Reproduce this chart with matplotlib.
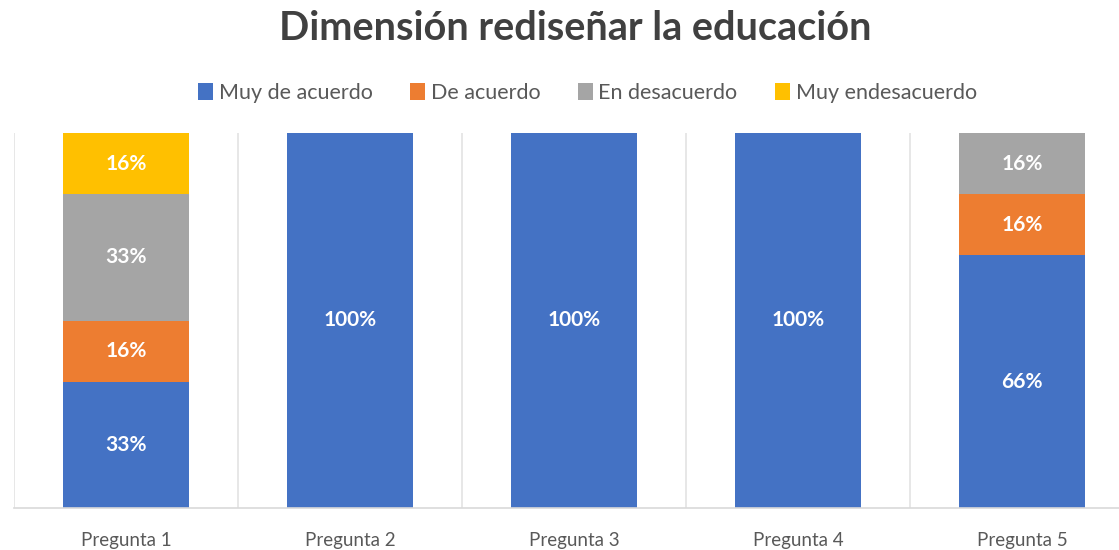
import matplotlib.pyplot as plt
import numpy as np

preguntas = ["Pregunta 1", "Pregunta 2", "Pregunta 3", "Pregunta 4", "Pregunta 5"]
series = ["Muy de acuerdo", "De acuerdo", "En desacuerdo", "Muy endesacuerdo"]
muy_de_acuerdo = [33, 100, 100, 100, 66]
de_acuerdo = [16, 0, 0, 0, 16]
en_desacuerdo = [33, 0, 0, 0, 16]
muy_endesacuerdo = [16, 0, 0, 0, 0]
colores = ["#4472C4", "#ED7D31", "#A5A5A5", "#FFC000"]

plt.rcParams['font.family'] = ['Lato', 'DejaVu Sans']

valores = np.array([muy_de_acuerdo, de_acuerdo, en_desacuerdo, muy_endesacuerdo], dtype=float)
totales = valores.sum(axis=0)
fracciones = valores / totales

fig = plt.figure(figsize=(11.19, 5.5), dpi=100)
ax = fig.add_axes([14 / 1119, 42 / 550, 1120 / 1119, 375 / 550])

x = np.arange(len(preguntas))
base = np.zeros(len(preguntas))
for i, nombre in enumerate(series):
    ax.bar(x, fracciones[i], 0.56, bottom=base, color=colores[i], label=nombre, zorder=2)
    for j in range(len(preguntas)):
        if valores[i, j] > 0:
            ax.text(x[j], base[j] + fracciones[i, j] / 2, f"{int(valores[i, j])}%",
                    ha="center", va="center", color="white", fontsize=15, fontweight="bold")
    base += fracciones[i]

ax.set_xlim(-0.5, len(preguntas) - 0.5)
ax.set_ylim(0, 1)
for b in np.arange(-0.5, len(preguntas), 1):
    ax.axvline(b, color="#e3e3e3", lw=1.2, zorder=1)
for s in ["top", "left", "right"]:
    ax.spines[s].set_visible(False)
ax.spines["bottom"].set_color("#d9d9d9")
ax.spines["bottom"].set_linewidth(1.2)
ax.set_yticks([])
ax.set_xticks(x)
ax.set_xticklabels(preguntas, fontsize=13.5, color="#595959")
ax.tick_params(axis="x", length=0, pad=17)

fig.text(0.514, 0.948, "Dimensión rediseñar la educación", ha="center", va="center",
         fontsize=28.5, fontweight="bold", color="#404040")
fig.legend(loc="center", bbox_to_anchor=(0.525, 0.831), ncol=4, frameon=False,
           fontsize=15.5, handlelength=0.7, handleheight=0.8, handletextpad=0.25,
           columnspacing=1.75, labelcolor="#595959")

fig.savefig("out.png", dpi=100)
